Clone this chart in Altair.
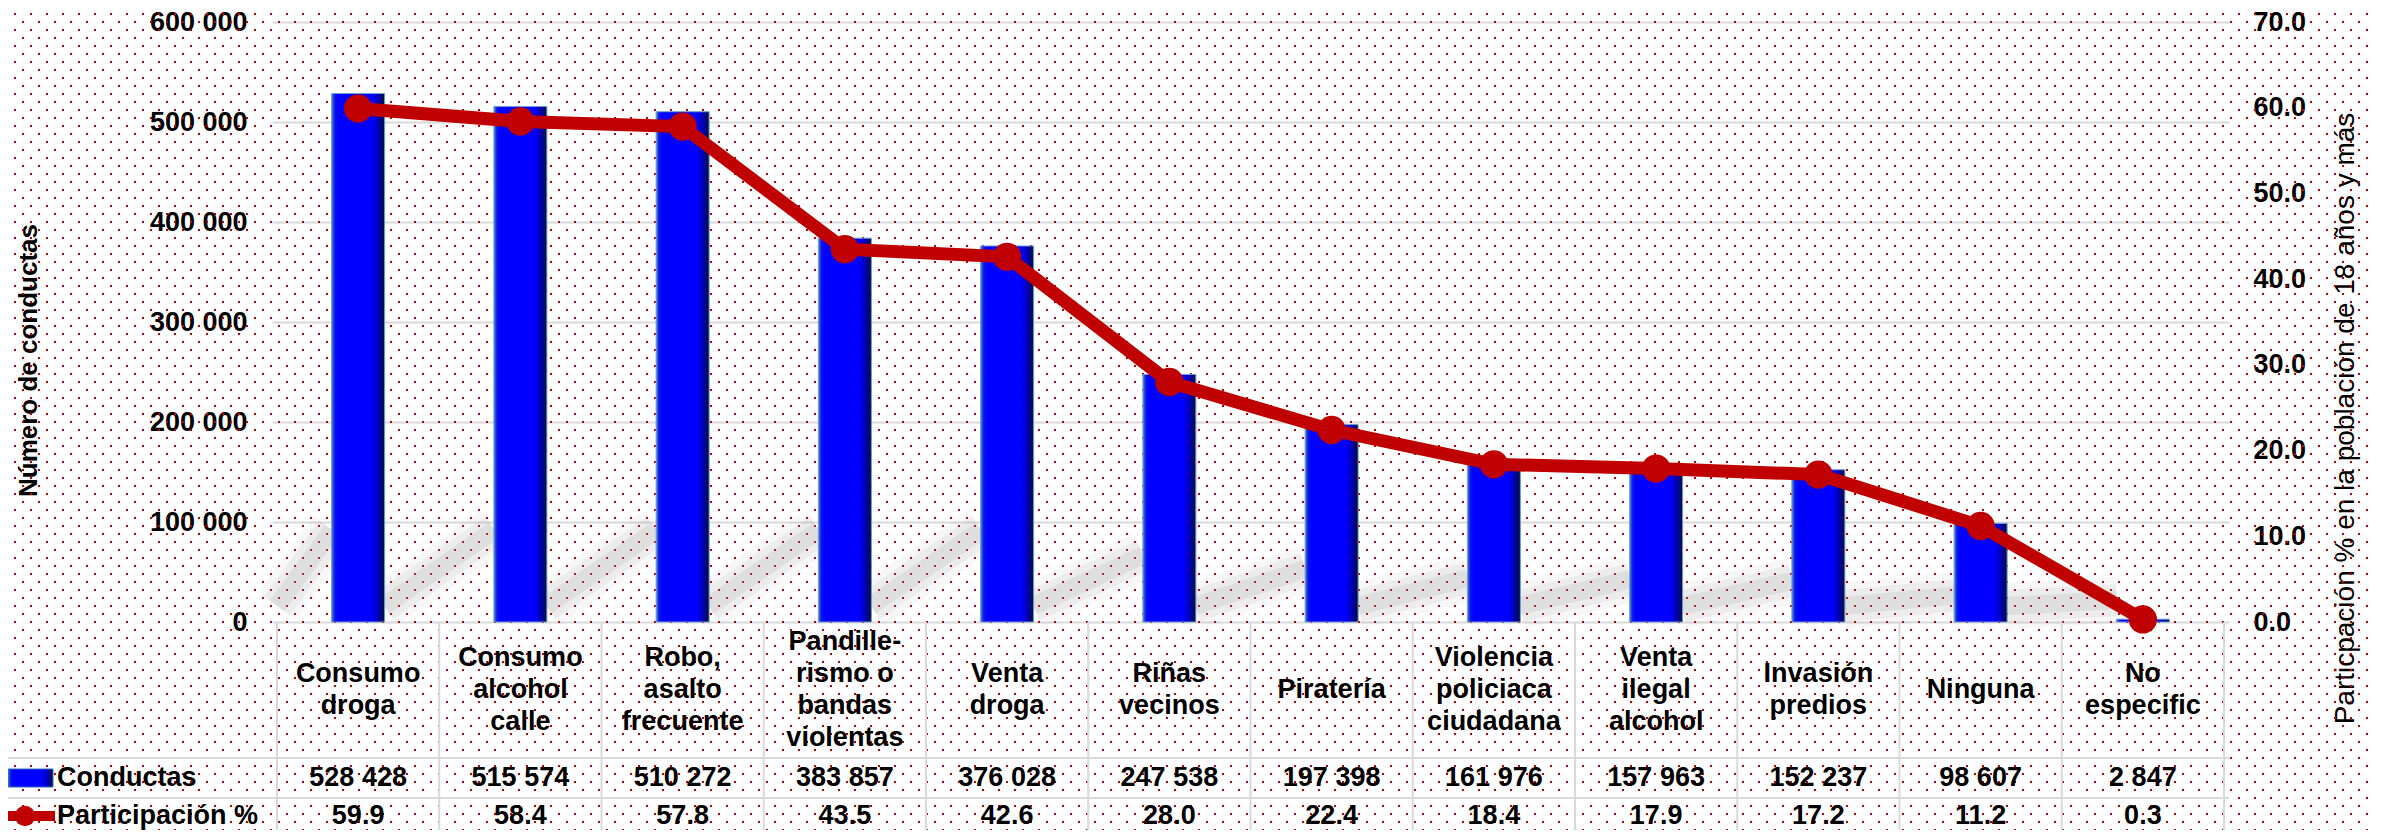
import altair as alt
import pandas as pd

# ---------------- data ----------------
categorias = [
    "Consumo\ndroga",
    "Consumo\nalcohol\ncalle",
    "Robo,\nasalto\nfrecuente",
    "Pandille-\nrismo o\nbandas\nviolentas",
    "Venta\ndroga",
    "Riñas\nvecinos",
    "Piratería",
    "Violencia\npoliciaca\nciudadana",
    "Venta\nilegal\nalcohol",
    "Invasión\npredios",
    "Ninguna",
    "No\nespecific",
]
conductas = [528428, 515574, 510272, 383857, 376028, 247538,
             197398, 161976, 157963, 152237, 98607, 2847]
participacion = [59.9, 58.4, 57.8, 43.5, 42.6, 28.0,
                 22.4, 18.4, 17.9, 17.2, 11.2, 0.3]
left_ticks = [0, 100000, 200000, 300000, 400000, 500000, 600000]
right_ticks = [0, 10, 20, 30, 40, 50, 60, 70]
serie_barras = "Conductas"
serie_linea = "Participación %"
titulo_izq = "Número de conductas"
titulo_der = "Particpación % en la población de 18 años y más"

n = len(categorias)
df = pd.DataFrame({
    "idx": list(range(n)),
    "cat": categorias,
    "cond": conductas,
    "pct": participacion,
    "cond_txt": [f"{v:,}".replace(",", " ") for v in conductas],
    "pct_txt": [f"{p:.1f}" for p in participacion],
})
bounds = pd.DataFrame({"b": [i - 0.5 for i in range(n + 1)]})
one = pd.DataFrame({"a": [0]})

# background dotted texture rows (page pattern)
rows = pd.DataFrame({"k": list(range(1, 104))})
rows["ry"] = 6 + 8 * rows["k"] - 22
rows["odd"] = rows["k"] % 2

# ---------------- styling ----------------
FONT = "Liberation Sans"
W, H = 1957, 600
RED = "#C00000"
GRID = "#D9D9D9"

xs = alt.Scale(domain=[-0.5, n - 0.5], nice=False, zero=False)
yL = alt.Scale(domain=[0, 600000], nice=False, zero=True)
yR = alt.Scale(domain=[0, 70], nice=False, zero=True)
x_enc = alt.X("idx:Q", scale=xs, axis=None)

left_axis = alt.Axis(
    values=left_ticks, grid=True, gridColor=GRID, gridWidth=2,
    domain=False, ticks=False, tickSize=0, labelPadding=25,
    labelFont=FONT, labelFontSize=27, labelFontWeight="bold", labelColor="black",
    labelExpr="datum.value == 0 ? '0' : format(datum.value / 1000, 'd') + ' 000'",
    title=titulo_izq, titleFont=FONT, titleFontSize=26, titleFontWeight="bold",
    titleColor="black", titleAngle=270, titleAlign="center", titleBaseline="middle",
    titleX=-244, titleY=338,
)
right_axis = alt.Axis(
    orient="right", values=right_ticks, grid=False, domain=False, ticks=False,
    tickSize=0, labelPadding=24, format=".1f", labelAlign="left",
    labelFont=FONT, labelFontSize=27, labelFontWeight="bold", labelColor="black",
    title=titulo_der, titleFont=FONT, titleFontSize=28, titleFontWeight="normal",
    titleColor="black", titleAngle=270, titleAlign="center", titleBaseline="middle",
    titleX=116, titleY=396,
)

bar_grad = alt.LinearGradient(
    gradient="linear", x1=0, x2=1, y1=0, y2=0,
    stops=[
        alt.GradientStop(color="#4A86C5", offset=0.0),
        alt.GradientStop(color="#0A14F0", offset=0.06),
        alt.GradientStop(color="#0000FF", offset=0.12),
        alt.GradientStop(color="#0000FF", offset=0.76),
        alt.GradientStop(color="#0000B8", offset=0.88),
        alt.GradientStop(color="#001038", offset=1.0),
    ],
)

# ---------------- background dots ----------------
bg_even = alt.Chart(rows).transform_filter("datum.odd == 0").mark_rule(
    color=RED, strokeWidth=2, strokeDash=[2, 14], strokeDashOffset=2
).encode(x=alt.value(-264), x2=alt.value(2101), y=alt.Y("ry:Q", scale=None, axis=None))
bg_odd = alt.Chart(rows).transform_filter("datum.odd == 1").mark_rule(
    color=RED, strokeWidth=2, strokeDash=[2, 14], strokeDashOffset=10
).encode(x=alt.value(-264), x2=alt.value(2101), y=alt.Y("ry:Q", scale=None, axis=None))

# ---------------- bar shadows ----------------
shadow_base = alt.Chart(df).transform_calculate(
    sx1="datum.idx == 0 ? -0.5 : datum.idx - 0.84",
    sx2="datum.idx - 0.16",
    sy1="16000",
    sy2="max(min(0.27 * datum.cond, 92000), 22000)",
).encode(
    x=alt.X("sx1:Q", scale=xs, axis=None), x2="sx2:Q",
    y=alt.Y("sy1:Q", scale=yL, axis=None), y2="sy2:Q",
)
shadows = [
    shadow_base.mark_rule(color="#909090", strokeWidth=sw, opacity=op, strokeCap="butt")
    for sw, op in [(46, 0.07), (32, 0.10), (18, 0.14)]
]

# ---------------- bars & line ----------------
bars = alt.Chart(df).mark_bar(width=53, color=bar_grad, stroke="#6E9FD0", strokeWidth=1).encode(
    x=x_enc, y=alt.Y("cond:Q", scale=yL, axis=left_axis)
)
line = alt.Chart(df).mark_line(color=RED, strokeWidth=13).encode(
    x=x_enc, y=alt.Y("pct:Q", scale=yR, axis=right_axis)
)
points = alt.Chart(df).mark_circle(color=RED, size=800, opacity=1).encode(
    x=x_enc, y=alt.Y("pct:Q", scale=yR, axis=None)
)

# ---------------- data table ----------------
vlines = alt.Chart(bounds).mark_rule(color=GRID, strokeWidth=2).encode(
    x=alt.X("b:Q", scale=xs, axis=None), y=alt.value(600), y2=alt.value(816)
)
hline1 = alt.Chart(one).mark_rule(color=GRID, strokeWidth=2).encode(
    x=alt.value(-264), x2=alt.value(W), y=alt.value(736)
)
hline2 = alt.Chart(one).mark_rule(color=GRID, strokeWidth=2).encode(
    x=alt.value(-264), x2=alt.value(W), y=alt.value(776)
)
txt = dict(font=FONT, fontSize=27, fontWeight="bold", color="black",
           align="center", baseline="middle")
# centre each multi-line label block vertically in its cell
cat_text = alt.Chart(df).transform_calculate(
    ty="668 - (length(split(datum.cat, '\\n')) - 1) * 16"
).mark_text(lineBreak="\n", lineHeight=32, **txt).encode(
    x=x_enc, y=alt.Y("ty:Q", scale=None, axis=None), text="cat:N"
)
cond_text = alt.Chart(df).mark_text(**txt).encode(x=x_enc, y=alt.value(756), text="cond_txt:N")
pct_text = alt.Chart(df).mark_text(**txt).encode(x=x_enc, y=alt.value(794), text="pct_txt:N")

# legend keys
key_bar = alt.Chart(one).mark_rect(color=bar_grad, stroke="#2F6FB8", strokeWidth=1).encode(
    x=alt.value(-264), x2=alt.value(-219), y=alt.value(747), y2=alt.value(765)
)
key_line = alt.Chart(one).mark_rule(color=RED, strokeWidth=10).encode(
    x=alt.value(-264), x2=alt.value(-217), y=alt.value(794)
)
key_pt = alt.Chart(one).mark_circle(color=RED, size=415, opacity=1).encode(
    x=alt.value(-247), y=alt.value(794)
)
lbl = dict(font=FONT, fontSize=27, fontWeight="bold", color="black",
           align="left", baseline="middle")
key_txt1 = alt.Chart(one).mark_text(text=serie_barras, **lbl).encode(
    x=alt.value(-215), y=alt.value(756)
)
key_txt2 = alt.Chart(one).mark_text(text=serie_linea, **lbl).encode(
    x=alt.value(-215), y=alt.value(794)
)

chart = alt.layer(
    bg_even, bg_odd, *shadows, bars, line, points,
    vlines, hline1, hline2, cat_text, cond_text, pct_text,
    key_bar, key_line, key_pt, key_txt1, key_txt2,
).resolve_scale(y="independent").properties(
    width=W, height=H,
    autosize=alt.AutoSizeParams(type="none"),
    padding={"left": 264, "top": 14, "right": 144, "bottom": 208},
    background="white",
).configure_view(stroke=None)

chart.save("out.html", embed_options={"renderer": "svg", "actions": False})
